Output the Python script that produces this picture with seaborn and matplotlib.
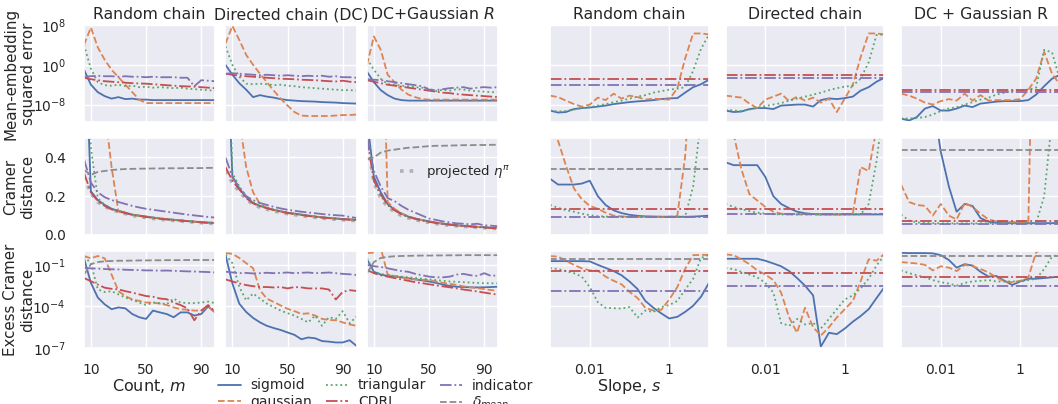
"""
Comparison of feature maps for distributional policy evaluation:
error versus the number of features (left block) and versus the slope (right block).
"""

# Library importation
import numpy as np                                   # arrays and the log10 -> value conversion
import seaborn as sns                                # theme and line drawing
import matplotlib
matplotlib.use('Agg')
import matplotlib.pyplot as plt                      # figure and axes handling
from matplotlib.lines import Line2D
from matplotlib.ticker import FixedLocator, FixedFormatter, NullLocator

# ---------------------------------------------------------------------------
# Data
# ---------------------------------------------------------------------------
counts = [5, 10, 15, 20, 25, 30, 35, 40, 45, 50, 55, 60, 65, 70, 75, 80, 85, 90, 95, 100]
slopes = [0.001, 0.0016, 0.0025, 0.004, 0.0063, 0.01, 0.016, 0.025, 0.04, 0.063, 0.1,
          0.16, 0.25, 0.4, 0.63, 1.0, 1.6, 2.5, 4.0, 6.3, 10.0]

# Row 1: mean-embedding squared error, stored as log10
mse_count_rc = {
    'sigmoid':    [-1, -4, -5.5, -6.3, -6.8, -6.5, -6.9, -6.8, -7.0, -7.0, -7.1, -7.1, -7.1, -7.1, -7.1, -7.1, -7.1, -7.1, -7.1, -7.1],
    'gaussian':   [4, 7.5, 3.5, 1, -1, -2.5, -4, -5.5, -7, -7.7, -7.7, -7.7, -7.7, -7.7, -7.7, -7.7, -7.7, -7.7, -7.7, -7.7],
    'triangular': [4, -0.8, -3.5, -4.1, -4.2, -4.0, -4.3, -4.2, -4.5, -4.4, -4.6, -4.5, -4.6, -4.7, -4.6, -4.8, -4.9, -5.0, -5.1, -5.2],
    'CDRL':       [-2.6, -2.9, -3.1, -3.3, -3.4, -3.5, -3.6, -3.7, -3.75, -3.8, -3.9, -4.0, -4.1, -4.2, -4.3, -4.35, -4.4, -4.5, -4.6, -4.7],
    'indicator':  [-2.4, -2.3, -2.2, -2.3, -2.3, -2.4, -2.3, -2.4, -2.4, -2.5, -2.4, -2.5, -2.5, -2.5, -2.6, -2.6, -4.3, -3.1, -3.2, -3.3],
}
mse_count_dc = {
    'sigmoid':    [0, -2, -3.7, -5, -6.5, -6.1, -6.4, -6.6, -6.9, -7.1, -7.2, -7.3, -7.35, -7.4, -7.5, -7.55, -7.6, -7.7, -7.75, -7.8],
    'gaussian':   [4.3, 7.8, 5, 2, 0, -1.8, -3.5, -5.2, -6.8, -8.2, -9.5, -10.2, -10.3, -10.3, -10.3, -10.3, -10.2, -10.1, -10.1, -10.0],
    'triangular': [3.7, 0, -2.4, -3.8, -3.9, -3.8, -3.9, -4.1, -4.0, -4.2, -4.3, -4.5, -4.6, -4.7, -4.8, -4.9, -5.0, -5.1, -5.1, -5.2],
    'CDRL':       [-1.8, -2.0, -2.2, -2.3, -2.4, -2.5, -2.6, -2.7, -2.8, -2.85, -2.9, -3.0, -3.05, -3.1, -3.2, -3.3, -3.35, -3.2, -3.4, -3.5],
    'indicator':  [-1.8, -1.7, -1.8, -1.9, -2.0, -2.1, -2.0, -2.1, -2.2, -2.1, -2.2, -2.3, -2.2, -2.3, -2.2, -2.4, -2.3, -2.5, -2.5, -2.6],
}
mse_count_dcg = {
    'sigmoid':    [-1.4, -3.5, -5.1, -6.1, -6.8, -7.1, -7.2, -7.2, -7.2, -7.2, -7.2, -7.2, -7.2, -7.2, -7.2, -7.2, -7.2, -7.2, -7.2, -7.2],
    'gaussian':   [0, 5.7, 3, -2, -3.5, -5, -6, -6.5, -6.9, -7.0, -7.0, -7.0, -7.0, -7.0, -7.0, -7.0, -7.0, -7.0, -7.0, -7.0],
    'triangular': [1.2, -1, -2.8, -3.9, -4.0, -4.2, -4.3, -4.5, -4.6, -4.8, -5.3, -5.0, -5.2, -4.9, -5.0, -5.2, -5.3, -5.4, -5.5, -5.5],
    'CDRL':       [-3.1, -3.4, -3.7, -4.0, -4.2, -4.4, -4.6, -4.8, -5.0, -5.2, -5.4, -5.6, -5.7, -5.9, -6.0, -6.1, -6.2, -6.3, -6.4, -6.5],
    'indicator':  [-2.9, -3.0, -3.1, -3.3, -3.5, -3.7, -3.9, -4.1, -4.3, -5.0, -5.1, -4.9, -4.7, -4.6, -4.5, -4.8, -4.6, -4.5, -4.6, -4.5],
}

# Row 2: Cramer distance (linear)
cramer_count_rc = {
    'sigmoid':    [1.2, 0.225, 0.18, 0.155, 0.135, 0.125, 0.115, 0.105, 0.1, 0.095, 0.09, 0.085, 0.082, 0.078, 0.075, 0.072, 0.069, 0.066, 0.064, 0.062],
    'gaussian':   [3, 3, 2, 0.65, 0.35, 0.12, 0.113, 0.105, 0.1, 0.095, 0.09, 0.085, 0.082, 0.078, 0.075, 0.072, 0.069, 0.066, 0.064, 0.062],
    'triangular': [1.5, 0.45, 0.19, 0.155, 0.134, 0.124, 0.114, 0.104, 0.099, 0.094, 0.089, 0.085, 0.081, 0.078, 0.074, 0.071, 0.068, 0.066, 0.063, 0.061],
    'CDRL':       [0.32, 0.22, 0.175, 0.15, 0.132, 0.122, 0.113, 0.104, 0.098, 0.093, 0.088, 0.084, 0.08, 0.077, 0.074, 0.071, 0.068, 0.065, 0.063, 0.061],
    'indicator':  [0.39, 0.27, 0.22, 0.195, 0.18, 0.17, 0.16, 0.15, 0.142, 0.135, 0.13, 0.125, 0.12, 0.115, 0.11, 0.105, 0.101, 0.097, 0.093, 0.09],
    'delta_mean': [0.335, 0.31, 0.325, 0.33, 0.335, 0.338, 0.34, 0.341, 0.342, 0.342, 0.343, 0.343, 0.344, 0.344, 0.344, 0.345, 0.345, 0.345, 0.346, 0.346],
    'projected':  [0.3, 0.215, 0.17, 0.148, 0.13, 0.12, 0.11, 0.101, 0.095, 0.09, 0.085, 0.081, 0.078, 0.075, 0.072, 0.069, 0.066, 0.063, 0.061, 0.059],
}
cramer_count_dc = {
    'sigmoid':    [1.2, 0.3, 0.24, 0.195, 0.165, 0.15, 0.14, 0.13, 0.122, 0.115, 0.11, 0.105, 0.1, 0.095, 0.091, 0.088, 0.085, 0.082, 0.08, 0.078],
    'gaussian':   [3, 2, 0.6, 0.35, 0.22, 0.16, 0.14, 0.13, 0.122, 0.115, 0.11, 0.105, 0.1, 0.095, 0.091, 0.088, 0.085, 0.082, 0.08, 0.078],
    'triangular': [1.5, 0.32, 0.25, 0.2, 0.168, 0.151, 0.14, 0.13, 0.122, 0.115, 0.11, 0.104, 0.1, 0.095, 0.091, 0.088, 0.085, 0.082, 0.08, 0.077],
    'CDRL':       [0.35, 0.28, 0.235, 0.19, 0.163, 0.148, 0.138, 0.128, 0.12, 0.113, 0.108, 0.103, 0.098, 0.094, 0.09, 0.087, 0.084, 0.081, 0.079, 0.077],
    'indicator':  [0.4, 0.3, 0.245, 0.2, 0.18, 0.165, 0.155, 0.145, 0.137, 0.13, 0.125, 0.12, 0.116, 0.112, 0.108, 0.105, 0.102, 0.1, 0.093, 0.088],
    'delta_mean': [0.65, 0.65, 0.65, 0.65, 0.65, 0.65, 0.65, 0.65, 0.65, 0.65, 0.65, 0.65, 0.65, 0.65, 0.65, 0.65, 0.65, 0.65, 0.65, 0.65],
    'projected':  [0.33, 0.27, 0.225, 0.185, 0.158, 0.143, 0.133, 0.124, 0.116, 0.11, 0.105, 0.1, 0.095, 0.091, 0.087, 0.084, 0.081, 0.078, 0.076, 0.074],
}
cramer_count_dcg = {
    'sigmoid':    [0.6, 0.3, 0.22, 0.16, 0.13, 0.11, 0.095, 0.085, 0.077, 0.07, 0.064, 0.058, 0.054, 0.05, 0.047, 0.045, 0.042, 0.04, 0.037, 0.035],
    'gaussian':   [3, 2, 1.5, 0.17, 0.135, 0.112, 0.096, 0.085, 0.077, 0.07, 0.064, 0.058, 0.054, 0.05, 0.047, 0.045, 0.042, 0.04, 0.037, 0.035],
    'triangular': [0.55, 0.28, 0.2, 0.155, 0.128, 0.108, 0.094, 0.084, 0.076, 0.069, 0.063, 0.058, 0.053, 0.05, 0.047, 0.044, 0.042, 0.039, 0.037, 0.035],
    'CDRL':       [0.5, 0.28, 0.21, 0.155, 0.127, 0.107, 0.093, 0.083, 0.075, 0.068, 0.062, 0.057, 0.053, 0.049, 0.046, 0.044, 0.041, 0.039, 0.036, 0.034],
    'indicator':  [0.5, 0.33, 0.25, 0.19, 0.175, 0.15, 0.13, 0.115, 0.1, 0.085, 0.078, 0.07, 0.065, 0.06, 0.058, 0.055, 0.058, 0.05, 0.048, 0.045],
    'delta_mean': [0.39, 0.4, 0.425, 0.435, 0.44, 0.445, 0.45, 0.452, 0.455, 0.458, 0.46, 0.46, 0.461, 0.462, 0.463, 0.463, 0.464, 0.464, 0.465, 0.465],
    'projected':  [0.5, 0.27, 0.19, 0.145, 0.12, 0.1, 0.088, 0.079, 0.071, 0.065, 0.059, 0.054, 0.05, 0.047, 0.044, 0.042, 0.039, 0.037, 0.035, 0.033],
}

# Row 3: excess Cramer distance, stored as log10
excess_count_rc = {
    'sigmoid':    [-0.53, -2.3, -3.36, -3.85, -4.2, -4.07, -4.14, -4.55, -4.78, -4.9, -4.3, -4.43, -4.55, -4.78, -4.43, -4.43, -4.66, -4.55, -4.0, -4.43],
    'gaussian':   [-0.36, -0.53, -0.36, -0.53, -1.7, -2.9, -3.25, -3.5, -3.6, -3.72, -3.72, -3.8, -3.9, -4.07, -4.2, -4.24, -4.3, -4.3, -4.0, -4.43],
    'triangular': [-0.4, -0.88, -2.77, -2.96, -2.9, -3.13, -3.36, -3.53, -3.72, -3.9, -3.72, -3.76, -3.84, -3.43, -3.72, -3.76, -3.76, -3.72, -3.65, -3.76],
    'CDRL':       [-1.95, -2.18, -2.42, -2.65, -2.73, -2.77, -2.9, -3.0, -3.13, -3.25, -3.3, -3.43, -3.48, -3.72, -3.9, -4.14, -5.0, -4.3, -3.9, -4.38],
    'indicator':  [-1.22, -1.25, -1.27, -1.3, -1.32, -1.33, -1.35, -1.37, -1.38, -1.4, -1.4, -1.42, -1.41, -1.43, -1.45, -1.47, -1.48, -1.5, -1.52, -1.55],
    'delta_mean': [-1.7, -0.95, -0.8, -0.74, -0.72, -0.7, -0.7, -0.69, -0.68, -0.68, -0.67, -0.67, -0.66, -0.66, -0.66, -0.65, -0.65, -0.65, -0.65, -0.65],
}
excess_count_dc = {
    'sigmoid':    [-0.27, -2.34, -3.8, -4.4, -4.83, -5.15, -5.4, -5.56, -5.7, -5.88, -6.05, -6.37, -6.24, -6.3, -6.5, -6.54, -6.6, -6.6, -6.44, -6.85],
    'gaussian':   [-0.15, -0.2, -0.5, -0.88, -1.24, -2.83, -3.44, -3.68, -3.93, -4.17, -4.34, -4.54, -4.5, -4.66, -4.9, -4.98, -5.0, -5.15, -5.3, -5.4],
    'triangular': [-0.27, -0.88, -2.59, -3.56, -3.07, -3.44, -3.8, -4.05, -4.3, -4.49, -4.66, -4.9, -5.15, -4.66, -5.4, -4.78, -4.9, -4.34, -5.22, -4.73],
    'CDRL':       [-2.05, -2.2, -2.34, -2.46, -2.54, -2.6, -2.6, -2.63, -2.6, -2.7, -2.6, -2.63, -2.7, -2.7, -2.7, -2.78, -3.5, -2.95, -2.83, -2.88],
    'indicator':  [-1.49, -1.55, -1.6, -1.58, -1.62, -1.6, -1.57, -1.6, -1.58, -1.55, -1.6, -1.57, -1.55, -1.6, -1.58, -1.55, -1.6, -1.65, -1.68, -1.73],
    'delta_mean': [0.3, 0.3, 0.3, 0.3, 0.3, 0.3, 0.3, 0.3, 0.3, 0.3, 0.3, 0.3, 0.3, 0.3, 0.3, 0.3, 0.3, 0.3, 0.3, 0.3],
}
excess_count_dcg = {
    'sigmoid':    [-0.6, -1.5, -1.7, -1.8, -1.85, -1.9, -1.97, -2.05, -2.12, -2.2, -2.3, -2.42, -2.52, -2.58, -2.6, -2.62, -2.63, -2.62, -2.6, -2.58],
    'gaussian':   [-0.15, -0.12, 0.2, -1.7, -1.8, -1.9, -2.0, -2.05, -2.08, -2.1, -2.2, -2.3, -2.36, -2.45, -2.55, -2.62, -2.68, -2.75, -2.82, -2.88],
    'triangular': [-0.5, -1.5, -1.65, -1.75, -1.8, -1.85, -1.9, -1.95, -2.0, -2.05, -2.1, -2.15, -2.2, -2.22, -2.25, -2.28, -2.3, -2.32, -2.33, -2.34],
    'CDRL':       [-1.37, -1.6, -1.75, -1.85, -1.95, -2.05, -2.15, -2.25, -2.32, -2.4, -2.48, -2.55, -2.62, -2.7, -2.78, -2.85, -2.92, -3.0, -3.08, -3.15],
    'indicator':  [-1.0, -1.1, -1.15, -1.25, -1.35, -1.45, -1.5, -1.65, -1.75, -1.85, -1.9, -1.9, -1.85, -1.7, -1.65, -1.75, -1.8, -1.6, -1.8, -1.75],
    'delta_mean': [-1.6, -0.8, -0.5, -0.42, -0.38, -0.36, -0.35, -0.34, -0.33, -0.33, -0.32, -0.32, -0.31, -0.31, -0.3, -0.3, -0.3, -0.3, -0.3, -0.3],
}

# Right block: curves that depend on the slope
mse_slope_rc = {
    'sigmoid':    [-9.2, -9.6, -9.5, -8.9, -8.7, -8.6, -8.4, -8.2, -7.9, -7.7, -7.5, -7.35, -7.25, -7.1, -6.9, -6.75, -6.7, -5.6, -4.5, -3.9, -3.0],
    'gaussian':   [-6.2, -6.5, -7.2, -7.9, -8.4, -8.0, -6.6, -7.1, -5.8, -6.8, -6.2, -6.5, -7.0, -6.8, -6.9, -7.0, -4.7, 1.2, 6.3, 6.3, 6.1],
    'triangular': [-9.2, -9.4, -9.3, -9.0, -8.7, -8.5, -8.2, -7.9, -7.5, -7.2, -6.8, -6.4, -6.1, -5.6, -5.3, -5.0, -4.8, -4.5, -1.2, 3.2, 6.1],
}
mse_slope_dc = {
    'sigmoid':    [-9.2, -9.5, -9.4, -8.9, -8.7, -8.7, -8.9, -8.2, -8.1, -8.0, -8.0, -8.4, -7.1, -6.75, -6.9, -6.7, -6.4, -5.2, -4.5, -3.4, -2.6],
    'gaussian':   [-6.2, -6.4, -6.6, -7.8, -8.7, -7.0, -6.4, -5.8, -7.3, -6.4, -7.2, -6.6, -7.6, -6.8, -9.5, -6.8, -4.0, 1.5, 6.3, 6.3, 6.1],
    'triangular': [-9.0, -9.2, -9.3, -9.0, -8.6, -8.3, -8.0, -7.7, -7.2, -6.8, -6.4, -6.0, -5.6, -5.1, -4.7, -4.4, -4.2, -2.8, 0.5, 6.0, 6.1],
}
mse_slope_dcg = {
    'sigmoid':    [-10.8, -11.2, -10.5, -8.8, -8.3, -9.2, -9.2, -8.8, -8.2, -8.5, -7.8, -7.6, -7.4, -7.3, -7.3, -7.3, -7.1, -6.0, -4.3, -2.8, -2.0],
    'gaussian':   [-5.8, -6.2, -6.8, -7.6, -8.0, -7.3, -6.9, -7.2, -5.8, -7.2, -6.1, -7.2, -7.1, -7.1, -7.1, -6.9, -5.0, -2.8, 2.6, -1.8, -4.0],
    'triangular': [-10.8, -10.8, -10.7, -10.5, -10.0, -9.3, -8.8, -8.5, -8.0, -7.5, -7.0, -6.6, -6.0, -5.6, -5.2, -5.1, -5.0, -4.6, 3.0, 2.5, -3.0],
}
cramer_slope_rc = {
    'sigmoid':    [0.29, 0.26, 0.26, 0.26, 0.265, 0.28, 0.2, 0.155, 0.127, 0.113, 0.104, 0.099, 0.096, 0.095, 0.094, 0.094, 0.094, 0.094, 0.095, 0.097, 0.1],
    'gaussian':   [0.52, 0.485, 0.36, 0.24, 0.185, 0.15, 0.135, 0.115, 0.1, 0.096, 0.094, 0.094, 0.094, 0.094, 0.094, 0.094, 0.1, 0.4, 1.0, 1.5, 2.0],
    'triangular': [0.155, 0.14, 0.128, 0.12, 0.11, 0.102, 0.097, 0.095, 0.094, 0.094, 0.094, 0.094, 0.094, 0.094, 0.094, 0.094, 0.094, 0.094, 0.25, 0.6, 0.9],
}
cramer_slope_dc = {
    'sigmoid':    [0.375, 0.36, 0.36, 0.36, 0.36, 0.3, 0.2, 0.16, 0.138, 0.12, 0.112, 0.108, 0.106, 0.106, 0.106, 0.106, 0.106, 0.106, 0.106, 0.106, 0.106],
    'gaussian':   [0.55, 0.52, 0.34, 0.21, 0.178, 0.145, 0.12, 0.11, 0.106, 0.106, 0.106, 0.106, 0.106, 0.106, 0.106, 0.106, 0.11, 0.35, 0.33, 0.55, 0.9],
    'triangular': [0.16, 0.145, 0.133, 0.123, 0.115, 0.11, 0.107, 0.106, 0.106, 0.106, 0.106, 0.106, 0.106, 0.106, 0.106, 0.106, 0.106, 0.106, 0.16, 0.38, 0.7],
}
cramer_slope_dcg = {
    'sigmoid':    [1.5, 1.3, 1.1, 0.9, 0.7, 0.43, 0.25, 0.12, 0.16, 0.15, 0.087, 0.068, 0.064, 0.062, 0.061, 0.061, 0.061, 0.061, 0.061, 0.061, 0.062],
    'gaussian':   [0.26, 0.17, 0.155, 0.15, 0.1, 0.16, 0.1, 0.08, 0.165, 0.145, 0.11, 0.08, 0.07, 0.068, 0.067, 0.067, 0.067, 2.0, 2.0, 2.0, 2.0],
    'triangular': [0.105, 0.075, 0.065, 0.062, 0.061, 0.06, 0.06, 0.06, 0.06, 0.06, 0.06, 0.06, 0.06, 0.06, 0.06, 0.06, 0.06, 0.06, 0.2, 0.6, 1.0],
}
excess_slope_rc = {
    'sigmoid':    [-0.73, -0.73, -0.73, -0.73, -0.73, -0.75, -1.0, -1.22, -1.45, -1.75, -2.2, -2.75, -3.6, -4.1, -4.5, -4.87, -4.75, -4.4, -3.95, -3.3, -2.3],
    'gaussian':   [-0.37, -0.4, -0.7, -1.0, -1.25, -1.4, -1.42, -1.85, -2.15, -2.4, -2.95, -3.4, -4.1, -4.3, -4.25, -3.5, -2.6, -1.3, -0.3, -0.28, -0.28],
    'triangular': [-1.24, -1.3, -1.45, -1.6, -1.85, -2.6, -3.7, -4.1, -4.13, -4.15, -4.05, -4.8, -4.3, -4.4, -4.05, -3.9, -3.6, -2.8, -2.0, -0.5, -0.28],
}
excess_slope_dc = {
    'sigmoid':    [-0.56, -0.56, -0.56, -0.56, -0.56, -0.7, -0.9, -1.1, -1.45, -1.95, -2.5, -3.2, -6.9, -5.9, -6.0, -5.6, -5.1, -4.7, -4.2, -3.4, -2.6],
    'gaussian':   [-0.25, -0.3, -0.6, -0.95, -1.4, -1.7, -2.1, -3.0, -4.8, -5.9, -4.1, -5.5, -6.1, -5.5, -4.8, -4.2, -3.6, -2.2, -0.6, -0.7, -0.2],
    'triangular': [-1.24, -1.3, -1.5, -1.7, -1.9, -2.3, -3.0, -5.2, -5.4, -4.9, -5.3, -5.2, -5.6, -4.9, -4.2, -3.5, -3.2, -2.7, -2.0, -1.05, -0.3],
}
excess_slope_dcg = {
    'sigmoid':    [-0.13, -0.15, -0.15, -0.15, -0.17, -0.3, -0.65, -1.2, -0.95, -1.05, -1.5, -1.85, -1.8, -2.15, -2.45, -2.2, -2.0, -2.0, -1.95, -1.9, -1.85],
    'gaussian':   [-0.8, -0.85, -0.9, -1.0, -1.4, -1.1, -1.2, -1.45, -1.0, -1.1, -1.3, -1.55, -1.9, -2.2, -2.25, -2.15, -1.9, -0.1, 0.2, 0.1, 0.1],
    'triangular': [-1.4, -1.6, -1.75, -1.9, -2.1, -2.25, -2.35, -2.5, -2.3, -2.2, -2.15, -2.1, -2.2, -2.2, -2.2, -2.2, -2.1, -2.0, -1.3, -0.4, -0.25],
}

# Right block: methods that do not depend on the slope (horizontal levels)
mse_flat = [{'CDRL': -2.76, 'indicator': -4.0},
            {'CDRL': -2.14, 'indicator': -2.7},
            {'CDRL': -5.1, 'indicator': -5.55}]
cramer_flat = [{'CDRL': 0.132, 'indicator': 0.092, 'delta_mean': 0.34},
               {'CDRL': 0.132, 'indicator': 0.108, 'delta_mean': 0.6},
               {'CDRL': 0.07, 'indicator': 0.057, 'delta_mean': 0.44}]
excess_flat = [{'CDRL': -1.46, 'indicator': -2.9, 'delta_mean': -0.61},
               {'CDRL': -1.58, 'indicator': -2.55, 'delta_mean': 0.3},
               {'CDRL': -1.9, 'indicator': -2.5, 'delta_mean': -0.37}]

count_titles = ['Random chain', 'Directed chain (DC)', 'DC+Gaussian $R$']
slope_titles = ['Random chain', 'Directed chain', 'DC + Gaussian R']
row_labels = ['Mean-embedding\nsquared error', 'Cramer\ndistance', 'Excess Cramer\ndistance']

# ---------------------------------------------------------------------------
# Styling of every method
# ---------------------------------------------------------------------------
deep = sns.color_palette('deep')
STYLE = {
    'sigmoid':    dict(color=deep[0], linestyle='-'),
    'gaussian':   dict(color=deep[1], linestyle='--'),
    'triangular': dict(color=deep[2], linestyle=':'),
    'CDRL':       dict(color=deep[3], linestyle='-.'),
    'indicator':  dict(color=deep[4], linestyle='-.'),
    'delta_mean': dict(color=deep[7], linestyle='--'),
    'projected':  dict(color='0.6', linestyle=':', linewidth=2.6, alpha=0.7),
}
LEGEND_NAMES = {'sigmoid': 'sigmoid', 'gaussian': 'gaussian', 'triangular': 'triangular',
                'CDRL': 'CDRL', 'indicator': 'indicator', 'delta_mean': r'$\delta_{mean}$'}
LW = 1.3
TITLE_SIZE = 11.3
LABEL_SIZE = 11.5
YLABEL_SIZE = 10.8


def draw_curves(ax, x, curves, log):
    '''Draw every curve of one panel with seaborn.'''
    # The projected curve goes first so it stays underneath
    order = sorted(curves, key=lambda k: k != 'projected')
    for name in order:
        vals = np.asarray(curves[name], dtype=float)
        y = 10.0 ** vals if log else vals
        kw = dict(STYLE[name])
        kw.setdefault('linewidth', LW)
        sns.lineplot(x=x, y=y, ax=ax, legend=False, **kw)


def draw_flat(ax, levels, log):
    '''Horizontal levels for methods that do not depend on the slope.'''
    for name, v in levels.items():
        ax.axhline(10.0 ** v if log else v, color=STYLE[name]['color'],
                   linestyle=STYLE[name]['linestyle'], linewidth=LW)


def style_row(ax, row):
    # Same y range and ticks over the whole row
    if row == 0:
        ax.set_yscale('log')
        ax.set_ylim(10 ** -11.5, 1e8)
        ax.yaxis.set_major_locator(FixedLocator([1e-8, 1e0, 1e8]))
    elif row == 1:
        ax.set_ylim(0, 0.5)
        ax.yaxis.set_major_locator(FixedLocator([0.0, 0.2, 0.4]))
        ax.yaxis.set_major_formatter(FixedFormatter(['0.0', '0.2', '0.4']))
    else:
        ax.set_yscale('log')
        ax.set_ylim(1e-7, 1.0)
        ax.yaxis.set_major_locator(FixedLocator([1e-7, 1e-4, 1e-1]))
    ax.yaxis.set_minor_locator(NullLocator())
    ax.set_xlabel('')
    ax.set_ylabel('')


if __name__ == "__main__":
    sns.set_theme(style='darkgrid', rc={'xtick.labelsize': 10, 'ytick.labelsize': 10})

    fig = plt.figure(figsize=(10.58, 4.04), dpi=100)
    top, bottom = 1 - 25 / 404, 1 - 348 / 404
    gs_left = fig.add_gridspec(3, 3, left=84 / 1058, right=498 / 1058, top=top, bottom=bottom,
                               wspace=0.08, hspace=0.165)
    gs_right = fig.add_gridspec(3, 3, left=550 / 1058, right=1060 / 1058, top=top, bottom=bottom,
                                wspace=0.104, hspace=0.165)

    count_rows = [[mse_count_rc, mse_count_dc, mse_count_dcg],
                  [cramer_count_rc, cramer_count_dc, cramer_count_dcg],
                  [excess_count_rc, excess_count_dc, excess_count_dcg]]
    slope_rows = [[mse_slope_rc, mse_slope_dc, mse_slope_dcg],
                  [cramer_slope_rc, cramer_slope_dc, cramer_slope_dcg],
                  [excess_slope_rc, excess_slope_dc, excess_slope_dcg]]
    flat_rows = [mse_flat, cramer_flat, excess_flat]
    log_rows = [True, False, True]

    for r in range(3):
        for c in range(3):
            # Left block: error against the number of features
            ax = fig.add_subplot(gs_left[r, c])
            style_row(ax, r)
            draw_curves(ax, counts, count_rows[r][c], log_rows[r])
            style_row(ax, r)
            ax.set_xlim(5, 100)
            ax.xaxis.set_major_locator(FixedLocator([10, 50, 90]))
            ax.tick_params(axis='y', labelleft=(c == 0), pad=7)
            ax.tick_params(axis='x', labelbottom=(r == 2), pad=5)
            if r == 0:
                ax.set_title(count_titles[c], fontsize=TITLE_SIZE, pad=4)
            if c == 0:
                ax.set_ylabel(row_labels[r], fontsize=YLABEL_SIZE)
                ax.yaxis.set_label_coords(-0.37, 0.5)
            if r == 2 and c == 0:
                ax.set_xlabel('Count, $m$', fontsize=LABEL_SIZE, labelpad=0)
            if r == 1 and c == 2:
                h = Line2D([], [], **STYLE['projected'])
                ax.legend([h], [r'projected $\eta^\pi$'], loc='center left',
                          bbox_to_anchor=(0.16, 0.65), frameon=False, fontsize=9.5,
                          handlelength=1.4, handletextpad=0.6)

            # Right block: error against the slope of the features
            ax = fig.add_subplot(gs_right[r, c])
            ax.set_xscale('log')
            style_row(ax, r)
            draw_curves(ax, slopes, slope_rows[r][c], log_rows[r])
            draw_flat(ax, flat_rows[r][c], log_rows[r])
            style_row(ax, r)
            ax.set_xlim(1e-3, 10)
            ax.xaxis.set_major_locator(FixedLocator([0.01, 1]))
            ax.xaxis.set_major_formatter(FixedFormatter(['0.01', '1']))
            ax.xaxis.set_minor_locator(NullLocator())
            ax.tick_params(axis='y', labelleft=False)
            ax.tick_params(axis='x', labelbottom=(r == 2), pad=5)
            if r == 0:
                ax.set_title(slope_titles[c], fontsize=TITLE_SIZE, pad=4)
            if r == 2 and c == 0:
                ax.set_xlabel('Slope, $s$', fontsize=LABEL_SIZE, labelpad=0)

    # Shared legend below the left block
    handles = [Line2D([], [], linewidth=LW, **STYLE[k]) for k in LEGEND_NAMES]
    fig.legend(handles, list(LEGEND_NAMES.values()), ncol=3, loc='upper center',
               bbox_to_anchor=(376 / 1058, 1 - 366 / 404), frameon=False, fontsize=10,
               handlelength=1.6, handletextpad=0.7, columnspacing=1.0, labelspacing=0.15)

    fig.savefig('out.png', dpi=100)
